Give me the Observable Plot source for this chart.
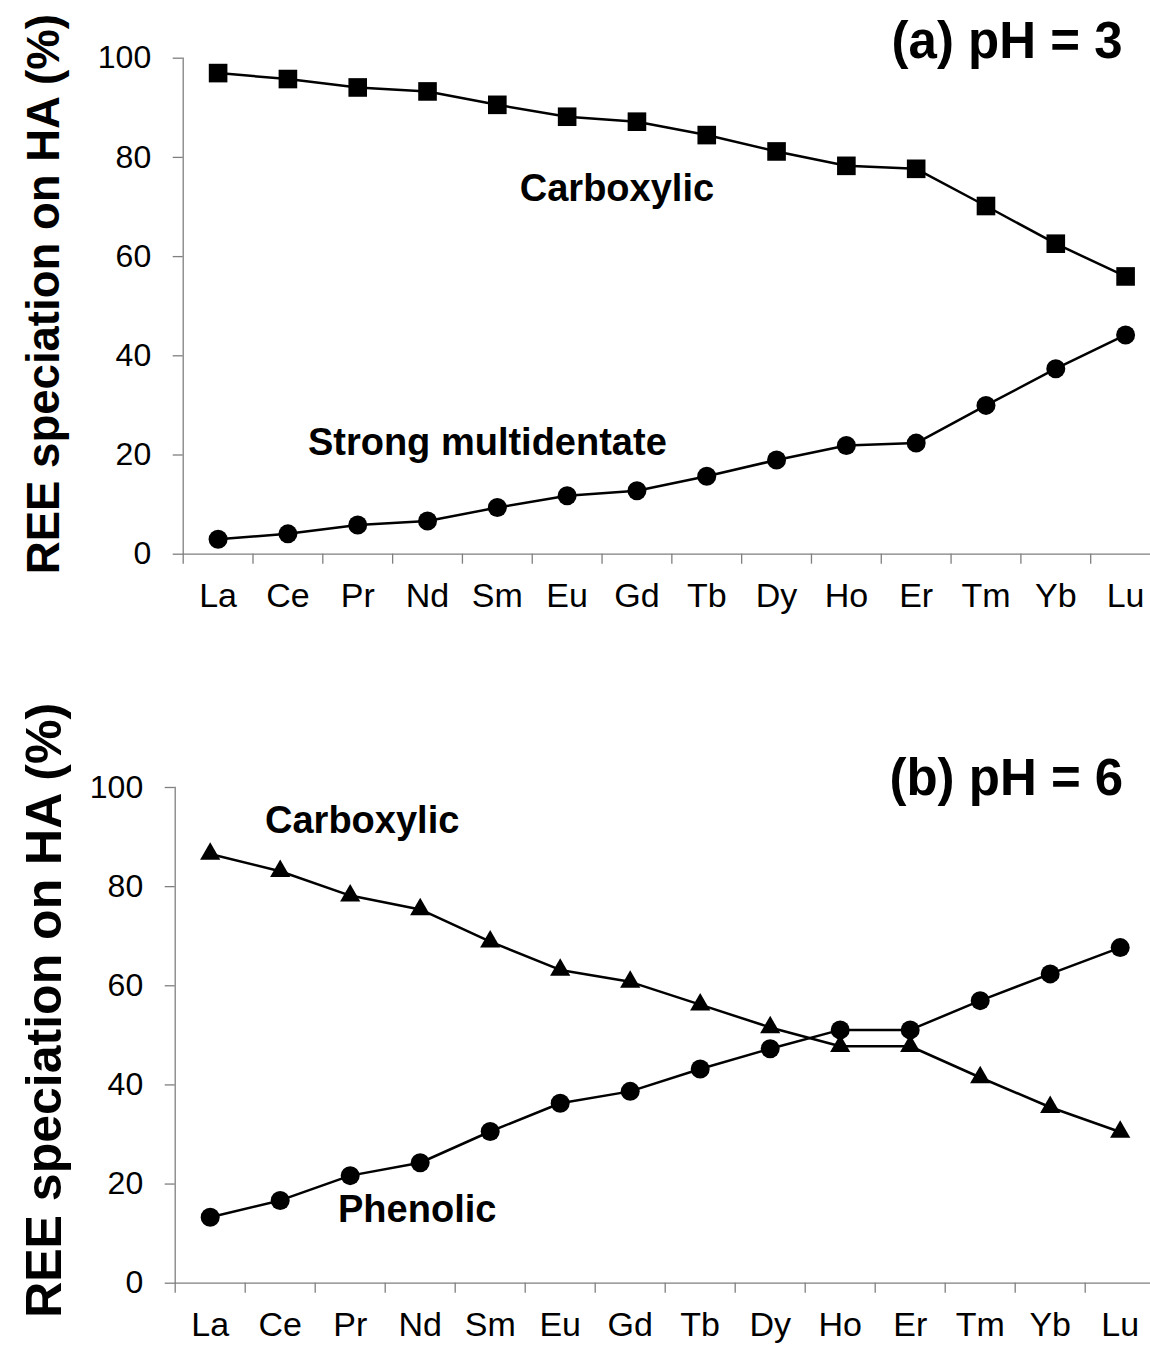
<!DOCTYPE html>
<html>
<head>
<meta charset="utf-8">
<script src="https://cdn.jsdelivr.net/npm/d3@7"></script>
<script src="https://cdn.jsdelivr.net/npm/@observablehq/plot@0.6"></script>
<style>
  html, body { margin: 0; padding: 0; background: #fff; overflow: hidden; }
  #chart svg { display: block; }
</style>
</head>
<body>
<div id="chart"></div>
<script>
// ---- data ----
const elements = ["La", "Ce", "Pr", "Nd", "Sm", "Eu", "Gd", "Tb", "Dy", "Ho", "Er", "Tm", "Yb", "Lu"];
const yTicks = [0, 20, 40, 60, 80, 100];
const yLabel = "REE speciation on HA (%)";

// (a) pH = 3
const carboxylicPH3   = [97.0, 95.8, 94.1, 93.3, 90.6, 88.2, 87.2, 84.5, 81.2, 78.3, 77.7, 70.2, 62.6, 56.0];
const multidentatePH3 = [3.0, 4.1, 5.9, 6.7, 9.4, 11.8, 12.8, 15.7, 19.0, 21.9, 22.4, 30.0, 37.4, 44.2];
// (b) pH = 6
const carboxylicPH6   = [86.6, 83.1, 78.2, 75.4, 68.9, 63.2, 60.8, 56.2, 51.6, 47.8, 47.8, 41.5, 35.5, 30.5];
const phenolicPH6     = [13.3, 16.7, 21.7, 24.3, 30.6, 36.3, 38.7, 43.2, 47.3, 51.1, 51.1, 57.0, 62.4, 67.7];

const panelTitles = ["(a) pH = 3", "(b) pH = 6"];

// ---- drawing ----
const FONT = "Liberation Sans, Arial, Helvetica, sans-serif";
const GRAY = "#7f7f7f";
const W = 1150;

function panel(cfg) {
  const {height, marginTop, marginBottom, marginLeft, marginRight, series, title, titlePos, notes, yTitle} = cfg;
  const bw = (W - marginLeft - marginRight) / elements.length;
  const marks = [
    Plot.frame({anchor: "left", stroke: GRAY, strokeWidth: 1.3}),
    Plot.ruleY([0], {stroke: GRAY, strokeWidth: 1.3}),
    Plot.axisY({ticks: yTicks, tickSize: 10, tickPadding: 22, fontSize: 32, stroke: GRAY, strokeWidth: 1.3, fill: "black", label: null}),
    Plot.axisX({tickSize: 10, tickFormat: () => "", dx: -bw / 2, stroke: GRAY, strokeWidth: 1.3, label: null}),
    Plot.axisX({tickSize: 0, tickPadding: 29, fontSize: 34, fill: "black", label: null})
  ];
  for (const s of series) {
    const data = elements.map((el, i) => ({el, v: s.values[i]}));
    marks.push(Plot.line(data, {x: "el", y: "v", stroke: "black", strokeWidth: 2.5}));
    marks.push(Plot.dot(data, {x: "el", y: "v", symbol: s.symbol, r: s.r, fill: "black", stroke: "none"}));
  }
  for (const n of notes) {
    marks.push(Plot.text([n.text], {x: [n.cat], y: [n.v], dx: n.dx, text: d => d,
      fontSize: 38, fontWeight: "bold", textAnchor: "middle", lineAnchor: "middle", fill: "black"}));
  }
  marks.push(Plot.text([title], {x: [titlePos.cat], y: [titlePos.v], dx: titlePos.dx, text: d => d,
    fontSize: 51, fontWeight: "bold", textAnchor: "end", lineAnchor: "middle", fill: "black"}));
  marks.push(Plot.text([yLabel], {frameAnchor: "left", rotate: -90, dx: 44 - marginLeft, dy: yTitle.dy, text: d => d,
    fontSize: yTitle.fontSize, fontWeight: "bold", textAnchor: "middle", lineAnchor: "middle", fill: "black"}));

  const svg = Plot.plot({
    width: W, height, marginTop, marginBottom, marginLeft, marginRight,
    style: {fontFamily: FONT, color: "black", background: "white"},
    x: {type: "band", domain: elements, padding: 0, round: false},
    y: {domain: [0, 100]},
    marks
  });
  d3.select(svg).selectAll("text").filter(function() { return this.textContent === yLabel; })
    .attr("textLength", yTitle.length).attr("lengthAdjust", "spacingAndGlyphs");
  return svg;
}

const chart = document.getElementById("chart");
chart.append(panel({
  height: 660, marginTop: 57.7, marginBottom: 106.3, marginLeft: 182.7, marginRight: -10,
  series: [
    {values: carboxylicPH3, symbol: "square", r: 10.5},
    {values: multidentatePH3, symbol: "circle", r: 9.5}
  ],
  title: panelTitles[0], titlePos: {cat: "Lu", v: 103.4, dx: -3},
  notes: [
    {text: "Carboxylic", cat: "Gd", v: 73.7, dx: -20},
    {text: "Strong multidentate", cat: "Sm", v: 22.5, dx: -10}
  ],
  yTitle: {dy: -12, fontSize: 46, length: 560}
}));
chart.append(panel({
  height: 687, marginTop: 127, marginBottom: 64.3, marginLeft: 174.7, marginRight: -4.7,
  series: [
    {values: carboxylicPH6, symbol: "triangle", r: 7.5},
    {values: phenolicPH6, symbol: "circle", r: 9.5}
  ],
  title: panelTitles[1], titlePos: {cat: "Lu", v: 101.7, dx: 3},
  notes: [
    {text: "Carboxylic", cat: "Pr", v: 93.3, dx: 12},
    {text: "Phenolic", cat: "Nd", v: 14.9, dx: -3}
  ],
  yTitle: {dy: -25, fontSize: 50, length: 615}
}));
</script>
</body>
</html>
